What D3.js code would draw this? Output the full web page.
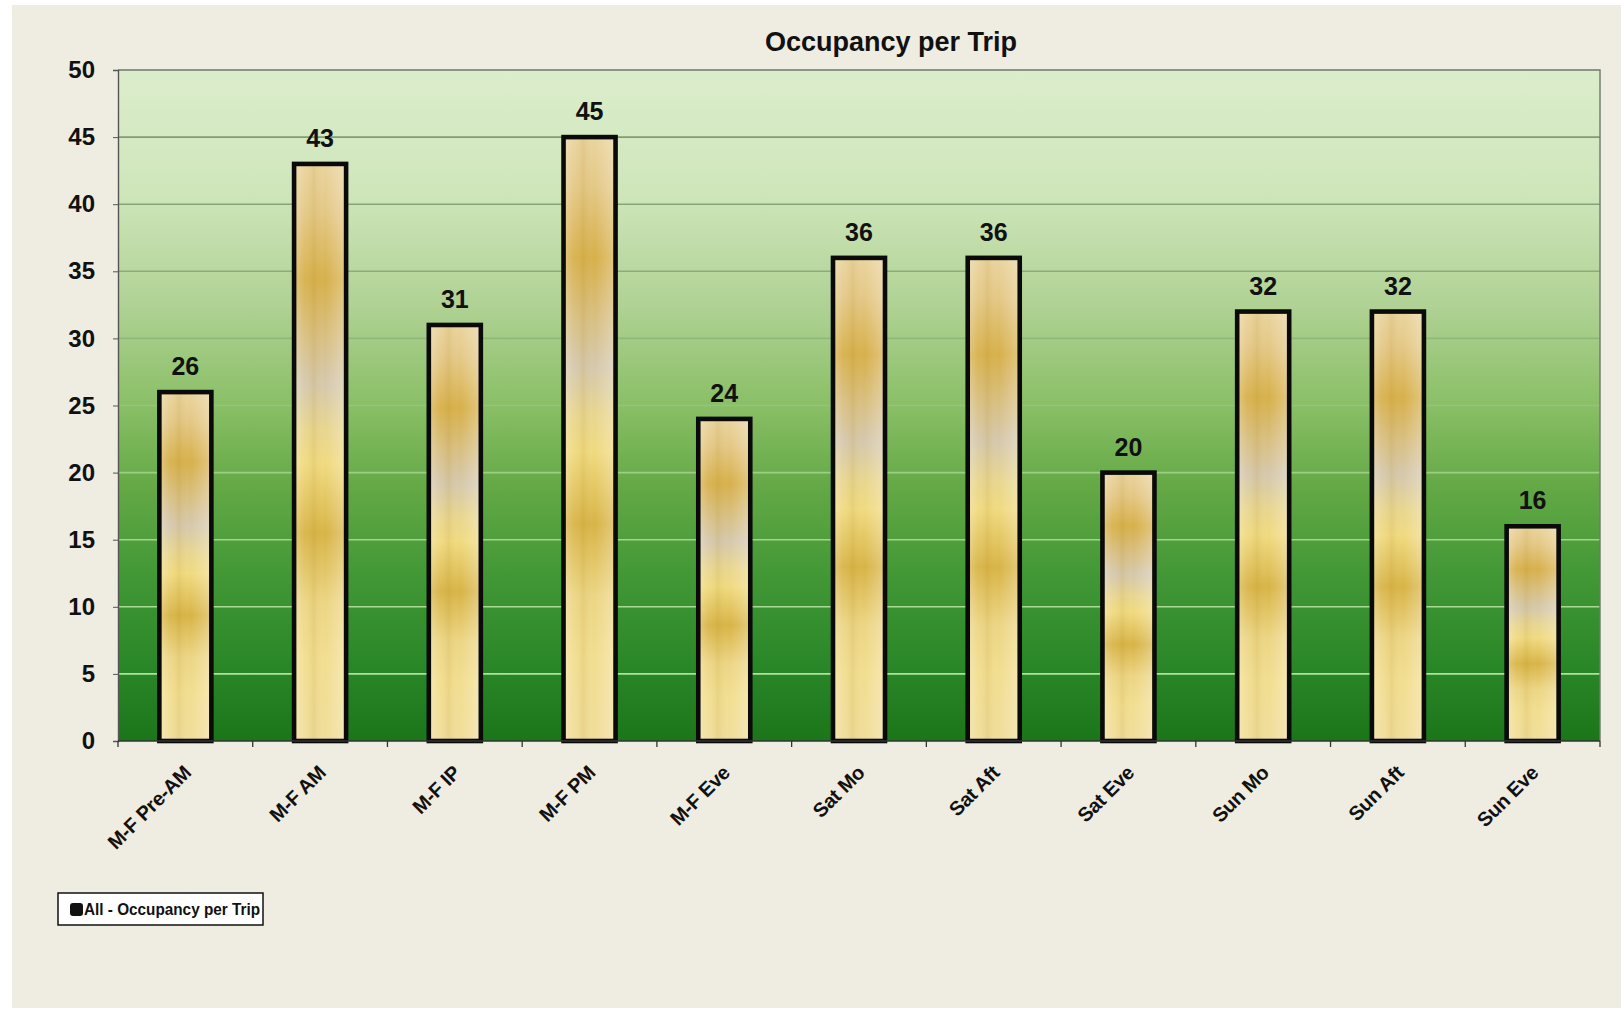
<!DOCTYPE html>
<html>
<head>
<meta charset="utf-8">
<script src="https://cdn.jsdelivr.net/npm/d3@7"></script>
<style>
  html, body { margin: 0; padding: 0; background: #ffffff; }
  svg { display: block; }
  text { font-family: Arial, "Liberation Sans", sans-serif; fill: #111; }
</style>
</head>
<body>
<svg id="chart" width="1621" height="1010"></svg>
<script>
// Occupancy per trip by service period
const categories = ["M-F Pre-AM", "M-F AM", "M-F IP", "M-F PM", "M-F Eve",
                    "Sat Mo", "Sat Aft", "Sat Eve", "Sun Mo", "Sun Aft", "Sun Eve"];
const occupancy = [26, 43, 31, 45, 24, 36, 36, 20, 32, 32, 16];
const yTicks = [0, 5, 10, 15, 20, 25, 30, 35, 40, 45, 50];
const chartTitle = "Occupancy per Trip";
const seriesName = "All - Occupancy per Trip";

const svg = d3.select("#chart");
const W = 1621, H = 1010;
const plot = { left: 118, right: 1600, top: 70, bottom: 741 };

const x = d3.scaleBand()
  .domain(categories)
  .range([plot.left, plot.right])
  .paddingInner(0.614)
  .paddingOuter(0.307);

const y = d3.scaleLinear()
  .domain([0, 50])
  .range([plot.bottom, plot.top]);

const defs = svg.append("defs");

// plot area: pale green at the top fading to deep green at the base
const bg = defs.append("linearGradient")
  .attr("id", "plotFill").attr("x1", 0).attr("y1", 0).attr("x2", 0).attr("y2", 1);
[[0, "#dcedcc"], [0.18, "#cfe6bb"], [0.35, "#b0d294"], [0.5, "#8abf66"],
 [0.62, "#64a946"], [0.75, "#439836"], [0.88, "#2b8828"], [1, "#1b761a"]]
  .forEach(([o, c]) => bg.append("stop").attr("offset", o).attr("stop-color", c));

// gridlines: darker than the background near the top, lighter near the base
const gl = defs.append("linearGradient")
  .attr("id", "gridStroke").attr("gradientUnits", "userSpaceOnUse")
  .attr("x1", 0).attr("y1", plot.top).attr("x2", 0).attr("y2", plot.bottom);
[[0, "#7c9470"], [0.35, "#8fb07c"], [0.6, "#9ccf84"], [1, "#b6e6a4"]]
  .forEach(([o, c]) => gl.append("stop").attr("offset", o).attr("stop-color", c));

// gold banded bar fill
const gold = defs.append("linearGradient")
  .attr("id", "barFill").attr("x1", 0).attr("y1", 0).attr("x2", 0).attr("y2", 1);
[[0, "#ead49e"], [0.08, "#e4c887"], [0.2, "#d7b04a"], [0.3, "#d8bf82"],
 [0.38, "#d5c8ad"], [0.46, "#e8d690"], [0.52, "#f0da80"], [0.64, "#d8b446"],
 [0.76, "#ecd584"], [0.86, "#f2de90"], [1, "#f0dd9a"]]
  .forEach(([o, c]) => gold.append("stop").attr("offset", o).attr("stop-color", c));

// soft vertical sheen across each bar
const sheen = defs.append("linearGradient")
  .attr("id", "barSheen").attr("x1", 0).attr("y1", 0).attr("x2", 1).attr("y2", 0);
[[0, "#ffffff", 0.28], [0.2, "#ffffff", 0.05], [0.38, "#b08a20", 0.12],
 [0.6, "#ffffff", 0.0], [0.85, "#ffffff", 0.18], [1, "#ffffff", 0.3]]
  .forEach(([o, c, a]) => sheen.append("stop").attr("offset", o)
    .attr("stop-color", c).attr("stop-opacity", a));

// chart area
svg.append("rect")
  .attr("x", 12).attr("y", 5).attr("width", W - 12).attr("height", 1003)
  .attr("fill", "#efece1");

// plot background
svg.append("rect")
  .attr("x", plot.left).attr("y", plot.top)
  .attr("width", plot.right - plot.left).attr("height", plot.bottom - plot.top)
  .attr("fill", "url(#plotFill)");

// gridlines
svg.append("g")
  .selectAll("line")
  .data(yTicks.filter(t => t > 0 && t < 50))
  .join("line")
  .attr("x1", plot.left).attr("x2", plot.right)
  .attr("y1", d => y(d)).attr("y2", d => y(d))
  .attr("stroke", "url(#gridStroke)").attr("stroke-width", 1.6);

// plot border (top and right)
svg.append("path")
  .attr("d", `M${plot.left},${plot.top}H${plot.right}V${plot.bottom}`)
  .attr("fill", "none").attr("stroke", "#6e7a68").attr("stroke-width", 1.4);

// bars
const barData = categories.map((c, i) => ({ c, v: occupancy[i] }));
const bars = svg.append("g");
bars.selectAll("rect.bar")
  .data(barData)
  .join("rect")
  .attr("class", "bar")
  .attr("x", d => x(d.c)).attr("width", x.bandwidth())
  .attr("y", d => y(d.v)).attr("height", d => y(0) - y(d.v))
  .attr("fill", "url(#barFill)");
bars.selectAll("rect.sheen")
  .data(barData)
  .join("rect")
  .attr("class", "sheen")
  .attr("x", d => x(d.c)).attr("width", x.bandwidth())
  .attr("y", d => y(d.v)).attr("height", d => y(0) - y(d.v))
  .attr("fill", "url(#barSheen)")
  .attr("stroke", "#0a0a0a").attr("stroke-width", 4.6);

// value labels
svg.append("g")
  .selectAll("text")
  .data(barData)
  .join("text")
  .attr("x", d => x(d.c) + x.bandwidth() / 2)
  .attr("y", d => y(d.v) - 17)
  .attr("text-anchor", "middle")
  .attr("font-size", 25).attr("font-weight", "bold")
  .text(d => d.v);

// y axis
const yAxis = svg.append("g")
  .attr("transform", `translate(${plot.left},0)`)
  .call(d3.axisLeft(y).tickValues(yTicks).tickSize(5).tickPadding(18));
yAxis.select(".domain").attr("stroke", "#555").attr("stroke-width", 1.4);
yAxis.selectAll(".tick line").attr("stroke", "#555");
yAxis.selectAll(".tick text")
  .attr("font-size", 24).attr("font-weight", "bold")
  .attr("font-family", "Arial, 'Liberation Sans', sans-serif")
  .attr("fill", "#111");

// x axis baseline and category-boundary ticks
const xAxis = svg.append("g");
xAxis.append("line")
  .attr("x1", plot.left).attr("x2", plot.right)
  .attr("y1", plot.bottom).attr("y2", plot.bottom)
  .attr("stroke", "#333").attr("stroke-width", 1.6);
xAxis.selectAll("line.tick")
  .data(d3.range(categories.length + 1))
  .join("line")
  .attr("class", "tick")
  .attr("x1", i => plot.left + i * x.step()).attr("x2", i => plot.left + i * x.step())
  .attr("y1", plot.bottom).attr("y2", plot.bottom + 6)
  .attr("stroke", "#333").attr("stroke-width", 1.3);
xAxis.selectAll("text")
  .data(categories)
  .join("text")
  .attr("transform", d => `translate(${x(d) + x.bandwidth() / 2 + 7},${plot.bottom + 33}) rotate(-45)`)
  .attr("text-anchor", "end")
  .attr("font-size", 20).attr("font-weight", "bold")
  .attr("letter-spacing", -0.3)
  .text(d => d);

// title
svg.append("text")
  .attr("x", 891).attr("y", 51)
  .attr("text-anchor", "middle")
  .attr("font-size", 27).attr("font-weight", "bold")
  .text(chartTitle);

// legend
const legend = svg.append("g").attr("transform", "translate(58,893)");
legend.append("rect")
  .attr("width", 205).attr("height", 32)
  .attr("fill", "#ffffff").attr("stroke", "#111").attr("stroke-width", 1.5);
legend.append("rect")
  .attr("x", 12).attr("y", 10).attr("width", 13).attr("height", 13).attr("rx", 3)
  .attr("fill", "#111");
legend.append("text")
  .attr("x", 26).attr("y", 22)
  .attr("font-size", 16).attr("font-weight", "bold")
  .attr("fill", "#222")
  .attr("textLength", 176).attr("lengthAdjust", "spacingAndGlyphs")
  .text(seriesName);
</script>
</body>
</html>
